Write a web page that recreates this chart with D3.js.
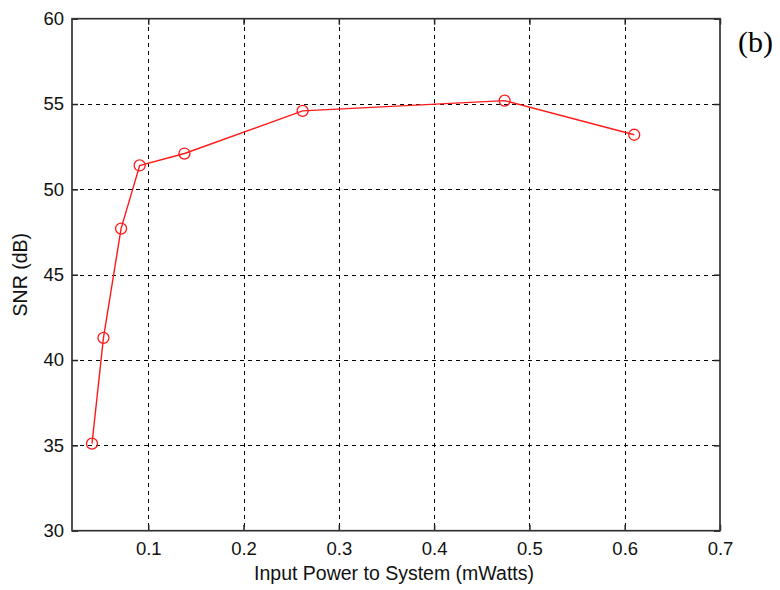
<!DOCTYPE html>
<html>
<head>
<meta charset="utf-8">
<script src="https://cdn.jsdelivr.net/npm/d3@7"></script>
<style>
  html, body { margin: 0; padding: 0; background: #fff; }
  svg { display: block; }
  .tick text { font-family: "Liberation Sans", Arial, sans-serif; font-size: 18.5px; fill: #111; }
</style>
</head>
<body>
<svg id="chart" width="780" height="590"></svg>
<script>
// Measured SNR versus input power
const powerMW = [0.041, 0.053, 0.0715, 0.091, 0.138, 0.262, 0.474, 0.610];
const snrDB   = [35.1, 41.3, 47.7, 51.4, 52.1, 54.6, 55.2, 53.2];

const xTicks = [0.1, 0.2, 0.3, 0.4, 0.5, 0.6, 0.7];
const yTicks = [30, 35, 40, 45, 50, 55, 60];

const svg = d3.select("#chart");
const plot = { left: 72, right: 720, top: 18.7, bottom: 530.7 };

const x = d3.scaleLinear().domain([0.02, 0.7]).range([plot.left, plot.right]);
const y = d3.scaleLinear().domain([30, 60]).range([plot.bottom, plot.top]);
const px = v => Math.round(v) + 0.5;

// dashed grid
const grid = svg.append("g").attr("stroke", "#000").attr("stroke-width", 1)
  .attr("stroke-dasharray", "4,4").attr("shape-rendering", "crispEdges");
grid.selectAll("line.v").data(xTicks.filter(t => t < 0.7)).join("line")
  .attr("x1", d => px(x(d))).attr("x2", d => px(x(d)))
  .attr("y1", plot.top).attr("y2", plot.bottom);
grid.selectAll("line.h").data(yTicks.filter(t => t > 30 && t < 60)).join("line")
  .attr("x1", plot.left).attr("x2", plot.right)
  .attr("y1", d => px(y(d))).attr("y2", d => px(y(d)));

// axes with inward ticks
const xAxis = svg.append("g").attr("transform", `translate(0,${plot.bottom})`)
  .call(d3.axisBottom(x).tickValues(xTicks).tickSize(-6).tickPadding(11).tickFormat(d3.format("")));
const yAxis = svg.append("g").attr("transform", `translate(${plot.left},0)`)
  .call(d3.axisLeft(y).tickValues(yTicks).tickSize(-6).tickPadding(8).tickFormat(d3.format("d")));
const xTop = svg.append("g").attr("transform", `translate(0,${plot.top})`)
  .call(d3.axisTop(x).tickValues(xTicks).tickSize(-6).tickFormat(""));
const yRight = svg.append("g").attr("transform", `translate(${plot.right},0)`)
  .call(d3.axisRight(y).tickValues(yTicks).tickSize(-6).tickFormat(""));

[xAxis, yAxis, xTop, yRight].forEach(g => {
  g.select(".domain").remove();
  g.selectAll(".tick line").attr("stroke", "#222").attr("stroke-width", 1.5);
});

// frame
svg.append("rect")
  .attr("x", plot.left).attr("y", plot.top)
  .attr("width", plot.right - plot.left).attr("height", plot.bottom - plot.top)
  .attr("fill", "none").attr("stroke", "#333").attr("stroke-width", 1.7);

// data line and markers
const line = d3.line().x((d, i) => x(powerMW[i])).y(d => y(d));
svg.append("path").datum(snrDB)
  .attr("d", line).attr("fill", "none")
  .attr("stroke", "#ff1a1a").attr("stroke-width", 1.4);
svg.append("g").selectAll("circle").data(snrDB).join("circle")
  .attr("cx", (d, i) => x(powerMW[i])).attr("cy", d => y(d)).attr("r", 5.5)
  .attr("fill", "none").attr("stroke", "#ff1a1a").attr("stroke-width", 1.3);

// axis titles
svg.append("text")
  .attr("x", (plot.left + plot.right) / 2 - 2).attr("y", 580)
  .attr("text-anchor", "middle")
  .attr("font-family", "Liberation Sans, Arial, sans-serif").attr("font-size", 19.5).attr("fill", "#111")
  .text("Input Power to System (mWatts)");
svg.append("text")
  .attr("transform", `translate(27,${(plot.top + plot.bottom) / 2}) rotate(-90)`)
  .attr("text-anchor", "middle")
  .attr("font-family", "Liberation Sans, Arial, sans-serif").attr("font-size", 19.5).attr("fill", "#111")
  .text("SNR (dB)");

// panel tag
svg.append("text")
  .attr("x", 738).attr("y", 52)
  .attr("font-family", "Liberation Serif, Times New Roman, serif").attr("font-size", 30).attr("fill", "#000")
  .text("(b)");
</script>
</body>
</html>
